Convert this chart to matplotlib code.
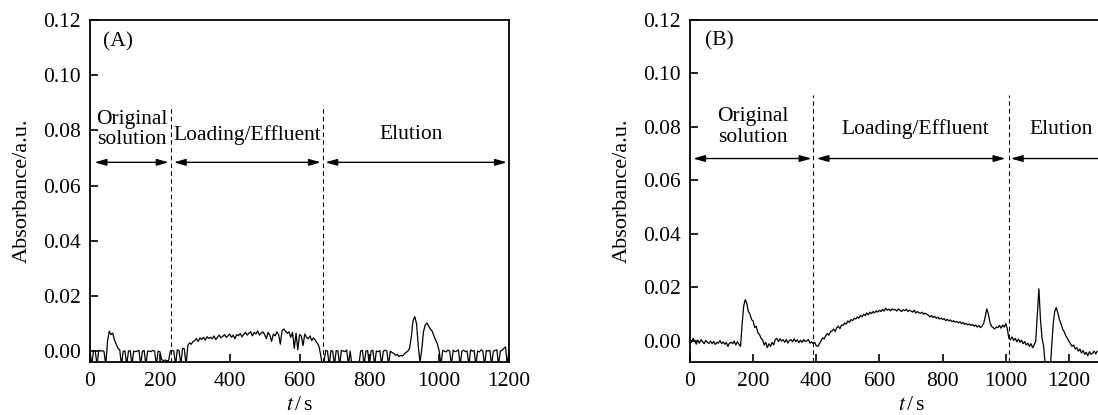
import numpy as np
import matplotlib
matplotlib.use("Agg")
from matplotlib import pyplot as plt
from matplotlib.ticker import FormatStrFormatter

plt.rcParams['font.family'] = ['Liberation Serif', 'DejaVu Serif']
plt.rcParams['mathtext.fontset'] = 'stix'

# sampling times (s) and absorbance readings (x 1e-3 a.u.)
t_a = np.arange(0, 1201, 5)
abs_a_milli = [
    0.0, -5, 0.2, 0.0, -5, 0.3, 0.0, 0.2, -0.2, -5,          # 0
    3.5, 7.2, 6.0, 6.5, 4.0, 2.5, 1.0, 0.5, -5, 0.0,         # 50
    0.0, -5, 0.0, 0.2, -5, 0.0, -0.2, 0.0, 0.3, -5,          # 100
    0.0, 0.2, -5, 0.0, 0.0, -0.2, 0.3, 0.0, -5, 0.0,         # 150
    -0.2, -3.0, -3.5, -3.2, -3.6, -3.3, 0.0, 0.3, 0.0, -5,   # 200
    0.5, 0.2, -5, 1.0, 0.8, -5, 2.0, 3.0, 2.5, 3.5,          # 250
    3.8, 4.5, 3.5, 4.8, 4.2, 5.0, 4.0, 5.2, 4.6, 5.0,        # 300
    4.5, 5.5, 4.2, 5.0, 5.8, 4.8, 5.3, 6.0, 5.0, 5.5,        # 350
    6.2, 5.0, 5.8, 4.5, 6.0, 5.6, 6.4, 5.2, 6.0, 6.8,        # 400
    5.8, 6.5, 7.0, 5.5, 6.8, 6.2, 7.3, 5.8, 6.5, 7.0,        # 450
    6.0, 4.5, 6.8, 5.8, 3.5, 6.2, 5.5, 7.0, 6.0, 2.5,        # 500
    7.5, 8.0, 7.2, 6.5, 7.0, 5.0, 6.8, 1.0, 6.5, 0.5,        # 550
    6.0, 5.5, 2.0, 6.2, 5.0, 4.5, 5.5, 3.8, 4.8, 4.0,        # 600
    3.0, 2.0, -1.0, -5, -4.0, 0.3, 0.0, -5, 0.2, 0.0,        # 650
    -5, 0.2, 0.0, -5, 0.3, 0.0, -0.2, 0.4, -5, 0.0,          # 700
    -5, -5, -5, -5, -5, 0.0, 0.3, -5, 0.0, 0.2,              # 750
    -5, 0.0, 0.3, -5, 0.0, -0.2, 0.2, -5, 0.0, 0.3,          # 800
    0.0, -5, 0.0, -0.5, -0.8, -1.5, -1.2, -2.0, -1.5, -1.8,  # 850
    -1.0, -0.5, 0.0, 1.0, 5.0, 11.0, 12.5, 10.0, 2.0, -4.0,  # 900
    0.5, 7.0, 9.5, 10.2, 9.0, 8.0, 7.2, 5.5, 4.0, 2.5,       # 950
    0.0, -5, 0.2, 0.0, -0.3, 0.4, 0.0, -5, 0.3, -0.2,        # 1000
    0.0, 0.5, -5, 0.0, 0.3, -0.2, 0.0, -5, 0.4, 0.0,         # 1050
    0.2, -5, 0.0, -0.3, 0.5, 0.0, -5, 0.2, 0.0, 0.3,         # 1100
    -5, 0.0, 0.2, 0.5, -5, 0.0, 0.3, 1.0, 1.5, -5,           # 1150
    0.5,                                                     # 1200
]

t_b = np.arange(0, 1301, 5)
abs_b_milli = [
    0.5, -0.5, 1.0, 0.0, -1.2, 0.3, -0.8, 0.5, -0.3, -1.0,           # 0
    0.2, -0.5, -0.9, 0.0, -1.0, -0.2, -1.3, -0.5, -0.8, 0.2,         # 50
    -1.0, -0.4, -1.2, -0.6, -2.0, -0.8, -0.5, -1.0, 0.0, -1.5,       # 100
    -0.3, -1.2, -2.0, 6.0, 13.0, 15.5, 14.0, 11.0, 10.0, 8.0,        # 150
    7.5, 5.0, 5.5, 3.0, 2.5, 1.0, 0.5, -1.5, -0.5, -2.5,             # 200
    -1.0, -2.0, -0.5, -1.5, 0.5, 1.0, -0.2, 0.8, 0.0, 0.5,           # 250
    -0.5, 0.6, -0.8, 0.2, 0.5, -0.3, 0.8, -0.2, 0.4, -0.6,           # 300
    0.3, -0.5, 0.5, -0.2, 0.0, 0.6, -0.8, -0.3, -1.0, -0.5,          # 350
    -1.8, -2.0, -1.0, 0.0, 1.2, 0.8, 2.0, 2.8, 2.2, 3.5,             # 400
    3.8, 4.5, 3.6, 5.0, 5.5, 4.6, 6.0, 5.8, 6.8, 6.3,                # 450
    7.5, 7.0, 8.0, 7.6, 8.5, 8.2, 9.0, 8.5, 9.6, 9.0,                # 500
    10.0, 9.5, 10.5, 9.8, 10.8, 10.2, 11.0, 10.5, 11.3, 10.8,        # 550
    11.5, 11.0, 11.8, 11.2, 12.3, 11.5, 11.9, 11.3, 12.0, 11.6,      # 600
    11.8, 11.2, 12.0, 11.5, 11.0, 11.7, 11.3, 11.9, 11.0, 11.5,      # 650
    11.2, 10.8, 11.5, 10.5, 11.0, 10.6, 10.3, 10.8, 10.0, 10.4,      # 700
    10.0, 9.6, 9.0, 9.5, 8.8, 9.2, 8.5, 8.9, 8.2, 8.6,               # 750
    8.0, 8.4, 7.6, 8.1, 7.5, 7.9, 7.2, 7.6, 7.0, 7.3,                # 800
    6.8, 7.2, 6.5, 6.9, 6.2, 6.6, 6.0, 6.4, 5.8, 6.2,                # 850
    5.5, 6.0, 5.2, 5.8, 5.0, 5.6, 6.5, 9.0, 12.0, 10.0,              # 900
    7.0, 5.5, 5.0, 4.5, 5.2, 5.0, 5.8, 4.8, 6.0, 5.2,                # 950
    6.5, 4.5, 1.0, 0.5, 1.5, 0.2, 1.0, -0.3, 0.8, -0.5,              # 1000
    0.3, -1.0, -0.2, -1.5, -0.8, -2.0, -1.0, -2.5, -1.5, 0.0,        # 1050
    10.0, 19.5, 8.0, 1.0, -2.0, -9.0, -12.0, -12.0, -12.0, -3.0,     # 1100
    6.0, 11.0, 12.5, 10.5, 8.0, 6.5, 4.5, 3.5, 2.0, 1.0,             # 1150
    0.0, -1.0, -2.0, -1.5, -3.0, -2.5, -3.8, -3.0, -4.5, -3.5,       # 1200
    -5.0, -4.2, -5.5, -4.0, -5.0, -4.5, -3.8, -4.8, -3.8, -4.0,      # 1250
    -3.5,                                                            # 1300
]

# stage boundaries (s) and labels
bounds_a = [232, 666]
bounds_b = [390, 1009]
stage_labels = ['Original\nsolution', 'Loading/Effluent', 'Elution']
label_x_a = [120, 451, 921]
label_x_b = [199, 714, 1175]
arrows_a = [(13, 225), (240, 661), (674, 1194)]
arrows_b = [(10, 385), (401, 999), (1016, 1395)]

fig = plt.figure(figsize=(10.98, 4.15), dpi=100)
ax_a = fig.add_axes([0.082, 0.128, 0.3816, 0.824])
# panel B runs past the right edge of the picture, as in the source figure
ax_b = fig.add_axes([0.6284, 0.128, 0.4026, 0.824])

FS = 15.5


def draw_panel(ax, t, vals, ymin, xmax, xticks, bounds, dash_top, label_x,
               label_y, arrows, arrow_y, tag, tag_x):
    ax.plot(t, np.array(vals) / 1000.0, color='k', lw=0.9)
    ax.set_xlim(0, xmax)
    ax.set_ylim(ymin, 0.12)
    ax.set_xticks(xticks)
    ax.set_yticks([0.0, 0.02, 0.04, 0.06, 0.08, 0.10, 0.12])
    ax.yaxis.set_major_formatter(FormatStrFormatter('%.2f'))
    ax.tick_params(direction='in', length=6, width=1.2, labelsize=FS,
                   top=False, right=False)
    ax.tick_params(axis='x', pad=7)
    ax.tick_params(axis='y', pad=6.5)
    for s in ax.spines.values():
        s.set_linewidth(1.3)
    ax.set_ylabel('Absorbance/a.u.', fontsize=16, labelpad=8)
    ax.set_xlabel(r'$t\,$/$\,$s', fontsize=FS, labelpad=4)

    for b in bounds:
        ax.plot([b, b], [ymin, dash_top], color='k', lw=0.8,
                ls=(0, (4, 3)))
    for (x0, x1) in arrows:
        ax.annotate('', xy=(x1, arrow_y), xytext=(x0, arrow_y),
                    arrowprops=dict(arrowstyle='<|-|>,head_length=0.7,head_width=0.2',
                                    color='k', lw=1.0, shrinkA=0, shrinkB=0))
    for lx, ly, txt in zip(label_x, label_y, stage_labels):
        ax.text(lx, ly, txt, fontsize=FS, ha='center', va='center',
                linespacing=1.1)
    ax.text(tag_x, 0.112, tag, fontsize=FS, ha='center', va='center')


draw_panel(ax_a, t_a, abs_a_milli, -0.0039, 1200,
           [0, 200, 400, 600, 800, 1000, 1200], bounds_a, 0.0893,
           label_x_a, [0.0802, 0.0784, 0.0784], arrows_a, 0.0684, '(A)', 80)
draw_panel(ax_b, t_b, abs_b_milli, -0.0078, 1400,
           [0, 200, 400, 600, 800, 1000, 1200], bounds_b, 0.0918,
           label_x_b, [0.0800, 0.0792, 0.0792], arrows_b, 0.0682, '(B)', 93)

fig.savefig('out.png', dpi=100)
